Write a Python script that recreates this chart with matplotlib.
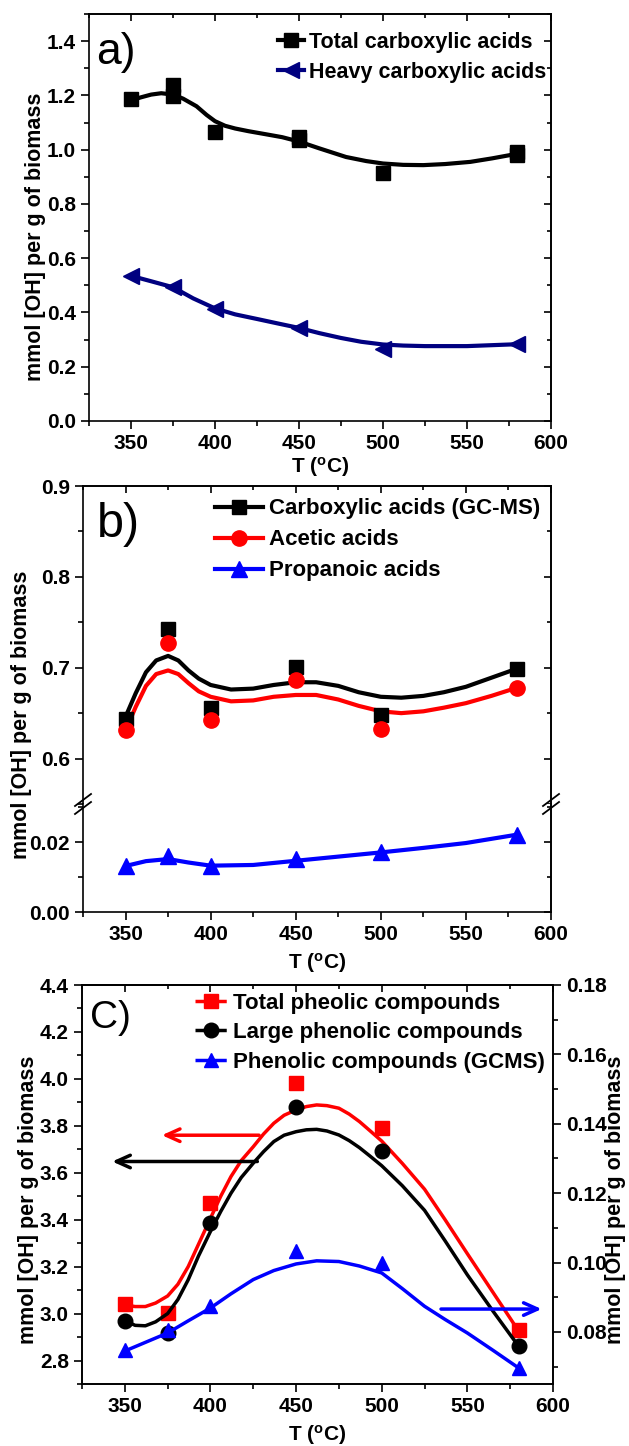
import matplotlib
matplotlib.use('Agg')
import matplotlib.pyplot as plt
from matplotlib.lines import Line2D
from matplotlib.ticker import MultipleLocator, FormatStrFormatter

plt.rcParams['font.family'] = ['Liberation Sans', 'DejaVu Sans']
plt.rcParams['font.weight'] = 'bold'
plt.rcParams['axes.labelweight'] = 'bold'
plt.rcParams['mathtext.fontset'] = 'custom'
plt.rcParams['mathtext.rm'] = 'Liberation Sans:bold'
plt.rcParams['mathtext.it'] = 'Liberation Sans:bold'
plt.rcParams['axes.linewidth'] = 1.2

T = [350, 375, 400, 450, 500, 580]

# a) carboxylic acids (repeated runs at 375, 450, 580)
tot_T = [350, 375, 375, 400, 450, 450, 500, 580, 580]
tot_y = [1.185, 1.237, 1.197, 1.066, 1.046, 1.034, 0.915, 0.993, 0.980]
heavy_y = [0.535, 0.493, 0.412, 0.344, 0.264, 0.284]
# fitted curves
tot_fit_T = [350, 356, 362, 368, 375, 381, 389, 395, 400, 406, 412, 420, 431, 440, 450, 462, 478,
             490, 500, 512, 524, 537, 552, 565, 580]
tot_fit = [1.182, 1.193, 1.203, 1.208, 1.203, 1.188, 1.160, 1.128, 1.105, 1.088, 1.078, 1.068,
           1.056, 1.046, 1.030, 1.005, 0.973, 0.958, 0.949, 0.944, 0.943, 0.947, 0.955, 0.968, 0.985]
heavy_fit_T = [350, 362, 375, 387, 400, 412, 425, 437, 450, 462, 475, 487, 500, 512, 525, 550, 580]
heavy_fit = [0.535, 0.515, 0.493, 0.452, 0.415, 0.393, 0.376, 0.360, 0.343, 0.324, 0.306, 0.292,
             0.282, 0.278, 0.276, 0.276, 0.283]

# b) GC-MS carboxylic acids
gc_y = [0.644, 0.743, 0.656, 0.701, 0.648, 0.699]
acet_y = [0.631, 0.727, 0.643, 0.687, 0.632, 0.678]
prop_y = [0.0133, 0.0162, 0.0131, 0.0151, 0.0171, 0.0222]
b_fit_T = [350, 356, 362, 368, 375, 381, 387, 393, 400, 412, 425, 437, 450, 462, 475, 487, 500,
           512, 525, 537, 550, 565, 580]
gc_fit = [0.646, 0.672, 0.695, 0.708, 0.713, 0.708, 0.697, 0.688, 0.681, 0.676, 0.677, 0.681,
          0.684, 0.684, 0.680, 0.673, 0.668, 0.667, 0.669, 0.673, 0.679, 0.689, 0.699]
acet_fit = [0.631, 0.657, 0.680, 0.693, 0.697, 0.693, 0.683, 0.674, 0.668, 0.663, 0.664, 0.668,
            0.670, 0.670, 0.665, 0.658, 0.652, 0.650, 0.652, 0.656, 0.661, 0.669, 0.678]
prop_fit_T = [350, 362, 375, 387, 400, 425, 450, 475, 500, 525, 550, 580]
prop_fit = [0.0132, 0.0146, 0.0152, 0.0142, 0.0133, 0.0135, 0.0147, 0.0159, 0.0171, 0.0184,
            0.0198, 0.0222]

# c) phenolic compounds
tot_ph = [3.041, 3.002, 3.473, 3.981, 3.790, 2.928]
large_ph = [2.970, 2.919, 3.388, 3.882, 3.693, 2.860]
gc_ph = [0.0747, 0.0807, 0.0874, 0.1032, 0.0999, 0.0696]
c_fit_T = [350, 356, 362, 368, 375, 381, 387, 393, 400, 406, 412, 418, 425, 431, 437, 443, 450,
           456, 462, 468, 475, 481, 487, 493, 500, 512, 525, 537, 550, 565, 580]
tot_ph_fit = [3.037, 3.030, 3.030, 3.045, 3.075, 3.125, 3.200, 3.295, 3.406, 3.500, 3.584, 3.652,
              3.711, 3.765, 3.811, 3.845, 3.868, 3.882, 3.889, 3.886, 3.875, 3.850, 3.818, 3.780,
              3.735, 3.640, 3.530, 3.400, 3.255, 3.090, 2.925]
large_ph_fit = [2.970, 2.950, 2.948, 2.965, 3.000, 3.060, 3.144, 3.245, 3.350, 3.435, 3.513, 3.580,
                3.641, 3.690, 3.733, 3.760, 3.775, 3.783, 3.785, 3.778, 3.761, 3.737, 3.707, 3.672,
                3.630, 3.545, 3.440, 3.310, 3.165, 3.010, 2.860]
gc_ph_fit_T = [350, 362, 375, 387, 400, 412, 425, 437, 450, 462, 475, 487, 500, 512, 525, 537, 550,
               565, 580]
gc_ph_fit = [0.0745, 0.0770, 0.0797, 0.0832, 0.0869, 0.0910, 0.0951, 0.0977, 0.0996, 0.1005,
             0.1003, 0.0990, 0.0970, 0.0925, 0.0874, 0.0836, 0.0797, 0.0747, 0.0696]

W, H = 629, 1446
fig = plt.figure(figsize=(W / 100, H / 100), dpi=100)


def box(l, r, t, b):
    return [l / W, 1 - b / H, (r - l) / W, (b - t) / H]


def style(ax, xlabels=True):
    ax.set_xlim(325, 600)
    ax.xaxis.set_major_locator(MultipleLocator(50))
    ax.xaxis.set_minor_locator(MultipleLocator(25))
    ax.tick_params(which='both', direction='out', labelsize=15, width=1.2)
    ax.tick_params(which='major', length=6)
    ax.tick_params(which='minor', length=3.5)
    if not xlabels:
        ax.tick_params(axis='x', which='both', bottom=False, labelbottom=False)


def mirror(ax, top=True, right=True):
    if right:
        s = ax.secondary_yaxis('right')
        s.yaxis.set_major_locator(ax.yaxis.get_major_locator())
        s.yaxis.set_minor_locator(ax.yaxis.get_minor_locator())
        s.tick_params(which='both', direction='in', labelright=False, width=1.2)
        s.tick_params(which='major', length=5)
        s.tick_params(which='minor', length=3)
    if top:
        s = ax.secondary_xaxis('top')
        s.xaxis.set_major_locator(MultipleLocator(50))
        s.xaxis.set_minor_locator(MultipleLocator(25))
        s.tick_params(which='both', direction='in', labeltop=False, width=1.2)
        s.tick_params(which='major', length=5)
        s.tick_params(which='minor', length=3)


def ylabel_at(x, y, side_text):
    fig.text(x / W, 1 - y / H, side_text, rotation=90, fontsize=15.5, fontweight='bold',
             ha='center', va='center')


xlab = r'T ($^{\mathrm{o}}$C)'
ylab = 'mmol [OH] per g of biomass'

# ---------------- a) ----------------
ax = fig.add_axes(box(89, 551, 14, 421))
ax.plot(tot_fit_T, tot_fit, color='black', lw=3)
ax.plot(tot_T, tot_y, 's', color='black', ms=9.5)
ax.plot(heavy_fit_T, heavy_fit, color='#000080', lw=3)
ax.plot(T, heavy_y, '<', color='#000080', ms=11)
ax.set_ylim(0, 1.5)
ax.yaxis.set_major_locator(MultipleLocator(0.2))
ax.yaxis.set_minor_locator(MultipleLocator(0.1))
ax.yaxis.set_major_formatter(FormatStrFormatter('%.1f'))
style(ax)
mirror(ax)
ax.set_xlabel(xlab, fontsize=15, labelpad=1)
ylabel_at(36, 237, ylab)
ax.text(0.015, 0.955, 'a)', transform=ax.transAxes, fontsize=32, fontweight='normal', va='top')
hd = [Line2D([], [], color='black', lw=3, marker='s', ms=9.5),
      Line2D([], [], color='#000080', lw=3, marker='<', ms=11)]
ax.legend(hd, ['Total carboxylic acids', 'Heavy carboxylic acids'], loc='upper left',
          bbox_to_anchor=(0.39, 0.978), frameon=False, fontsize=15.5, handlelength=1.2,
          handletextpad=0.27, labelspacing=0.42, borderaxespad=0)

# ---------------- b) ----------------
axu = fig.add_axes(box(83, 551, 486, 804))
axl = fig.add_axes(box(83, 551, 804, 912))
axu.plot(b_fit_T, gc_fit, color='black', lw=3)
axu.plot(b_fit_T, acet_fit, color='red', lw=3)
axu.plot(T, gc_y, 's', color='black', ms=10)
axu.plot(T, acet_y, 'o', color='red', ms=11)
axl.plot(prop_fit_T, prop_fit, color='blue', lw=3)
axl.plot(T, prop_y, '^', color='blue', ms=11)
axu.set_ylim(0.55, 0.9)
axu.yaxis.set_major_locator(MultipleLocator(0.1))
axu.yaxis.set_minor_locator(MultipleLocator(0.05))
axu.yaxis.set_major_formatter(FormatStrFormatter('%.1f'))
axl.set_ylim(0, 0.031)
axl.yaxis.set_major_locator(MultipleLocator(0.02))
axl.yaxis.set_minor_locator(MultipleLocator(0.01))
axl.yaxis.set_major_formatter(FormatStrFormatter('%.2f'))
style(axu, xlabels=False)
style(axl)
axu.spines['bottom'].set_visible(False)
axl.spines['top'].set_visible(False)
mirror(axu)
mirror(axl, top=False)
axl.set_xlabel(xlab, fontsize=15, labelpad=5)
ylabel_at(22, 715, ylab)
axu.text(0.029, 0.95, 'b)', transform=axu.transAxes, fontsize=35, fontweight='normal', va='top')
# axis-break slashes on both spines
for xs in (83, 551):
    for off in (-4, 4):
        fig.add_artist(Line2D([(xs - 8) / W, (xs + 8) / W],
                              [1 - (804 + off + 6) / H, 1 - (804 + off - 6) / H],
                              color='black', lw=1.3))
hd = [Line2D([], [], color='black', lw=3, marker='s', ms=10),
      Line2D([], [], color='red', lw=3, marker='o', ms=11),
      Line2D([], [], color='blue', lw=3, marker='^', ms=11)]
axu.legend(hd, ['Carboxylic acids (GC-MS)', 'Acetic acids', 'Propanoic acids'], loc='upper left',
           bbox_to_anchor=(0.263, 0.989), frameon=False, fontsize=16, handlelength=2.15,
           handletextpad=0.27, labelspacing=0.45, borderaxespad=0)

# ---------------- c) ----------------
axc = fig.add_axes(box(82, 553, 985, 1384))
axr = axc.twinx()
axc.plot(c_fit_T, tot_ph_fit, color='red', lw=2.5)
axc.plot(T, tot_ph, 's', color='red', ms=9.5)
axc.plot(c_fit_T, large_ph_fit, color='black', lw=2.5)
axc.plot(T, large_ph, 'o', color='black', ms=10.5)
axr.plot(gc_ph_fit_T, gc_ph_fit, color='blue', lw=2.5)
axr.plot(T, gc_ph, '^', color='blue', ms=10.5)
axc.set_ylim(2.7, 4.4)
axc.yaxis.set_major_locator(MultipleLocator(0.2))
axc.yaxis.set_minor_locator(MultipleLocator(0.1))
axc.yaxis.set_major_formatter(FormatStrFormatter('%.1f'))
axr.set_ylim(0.065, 0.18)
axr.yaxis.set_major_locator(MultipleLocator(0.02))
axr.yaxis.set_minor_locator(MultipleLocator(0.01))
axr.yaxis.set_major_formatter(FormatStrFormatter('%.2f'))
style(axc)
axr.tick_params(which='both', direction='out', labelsize=15, width=1.2)
axr.tick_params(which='major', length=6)
axr.tick_params(which='minor', length=3.5)
mirror(axc, right=False)
axc.set_xlabel(xlab, fontsize=15, labelpad=5)
ylabel_at(29, 1200, ylab)
ylabel_at(615, 1200, ylab)
axc.text(0.018, 0.962, 'C)', transform=axc.transAxes, fontsize=28, fontweight='normal', va='top')
arw = dict(arrowstyle='->,head_length=1.0,head_width=0.45', lw=2.5)
axc.annotate('', xy=(370, 3.76), xytext=(430, 3.76), arrowprops=dict(arw, color='red'))
axc.annotate('', xy=(341, 3.648), xytext=(429, 3.648), arrowprops=dict(arw, color='black'))
axr.annotate('', xy=(595, 0.0866), xytext=(533, 0.0866), arrowprops=dict(arw, color='blue'))
hd = [Line2D([], [], color='red', lw=2.5, ls='--', marker='s', ms=9.5),
      Line2D([], [], color='black', lw=2.5, ls='--', marker='o', ms=10.5),
      Line2D([], [], color='blue', lw=2.5, ls='--', marker='^', ms=10.5)]
axc.legend(hd, ['Total pheolic compounds', 'Large phenolic compounds', 'Phenolic compounds (GCMS)'],
           loc='upper left', bbox_to_anchor=(0.221, 1.003), frameon=False, fontsize=16,
           handlelength=1.45, handletextpad=0.27, labelspacing=0.38, borderaxespad=0)

fig.savefig('out.png', dpi=100)
